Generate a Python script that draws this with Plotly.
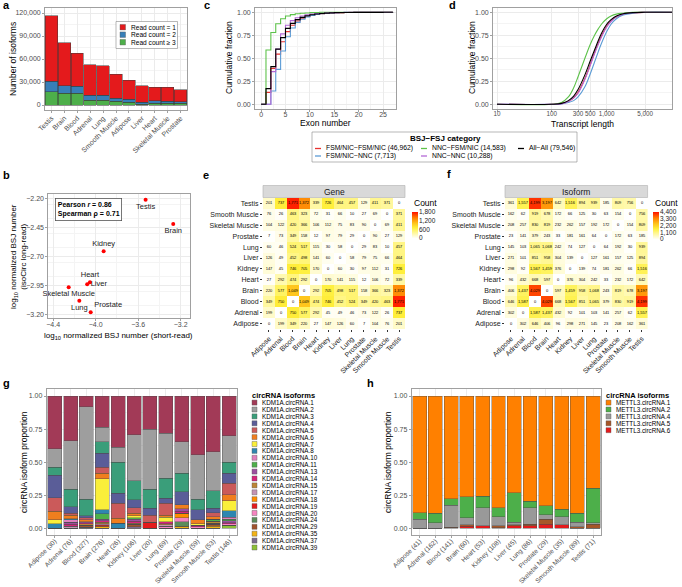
import plotly.graph_objects as go

W, H = 682, 587
FONT = "Liberation Sans, Arial, Helvetica, sans-serif"
GRID = "#EBEBEB"
MINOR = "#F4F4F4"
BORDER = "#A0A0A0"
TICKC = "#4D4D4D"


def xdom(a, b):
    return [a / W, b / W]


def ydom(top, bottom):
    return [1 - bottom / H, 1 - top / H]


def px(p):
    return p / W


def py(p):
    return 1 - p / H


# ------------------------------------------------------------------ data
# panel a
a_tissues = ["Testis", "Brain", "Blood", "Adrenal", "Lung", "Smooth Muscle",
             "Adipose", "Liver", "Heart", "Skeletal Muscle", "Prostate"]
a_count1 = [85600, 56100, 43000, 39600, 38300, 31300, 25200, 20900, 17500, 18000, 15100]
a_count2 = [13900, 10000, 9200, 6100, 6100, 4300, 3500, 2600, 3300, 3000, 2500]
a_count3 = [17000, 15200, 15200, 6500, 6500, 4800, 3900, 1300, 2200, 2000, 2000]
a_names = ["Read count = 1", "Read count = 2", "Read count \u2265 3"]
a_colors = ["#E41A1C", "#377EB8", "#4DAF4A"]

# panel b
b_tissues = ["Testis", "Brain", "Kidney", "Heart", "Liver", "Skeletal Muscle", "Lung", "Prostate"]
b_short_read = [-3.53, -3.27, -3.925, -4.054, -4.08, -4.254, -4.154, -4.047]
b_long_read = [-2.212, -2.422, -2.657, -2.924, -2.941, -2.967, -3.083, -3.183]
b_text_pos = ["bottom center", "bottom center", "top center", "top center",
              "middle right", "bottom center", "bottom center", "top right"]

# panels c, d
cd_categories = ["FSM/NIC\u2212FSM/NIC (46,962)", "FSM/NIC\u2212NNC (7,713)",
                 "NNC\u2212FSM/NIC (14,583)", "NNC\u2212NNC (10,288)", "All\u2212All (79,546)"]
cd_colors = ["#E8312F", "#5B9BD5", "#5DC24A", "#B469D6", "#000000"]

exon_numbers = list(range(0, 28))
exon_cdf = [
    [0, 0.13, 0.39, 0.545, 0.68, 0.79, 0.86, 0.905, 0.935, 0.955, 0.968, 0.978, 0.985, 0.99,
     0.993, 0.995, 0.997, 0.998, 0.999, 1, 1, 1, 1, 1, 1, 1, 1, 1],
    [0, 0, 0.145, 0.38, 0.58, 0.735, 0.83, 0.89, 0.925, 0.95, 0.965, 0.977, 0.985, 0.99,
     0.993, 0.996, 0.998, 0.999, 1, 1, 1, 1, 1, 1, 1, 1, 1, 1],
    [0, 0.59, 0.78, 0.875, 0.93, 0.96, 0.975, 0.985, 0.99, 0.993, 0.996, 0.998, 0.999, 1,
     1, 1, 1, 1, 1, 1, 1, 1, 1, 1, 1, 1, 1, 1],
    [0, 0, 0.355, 0.60, 0.765, 0.86, 0.91, 0.94, 0.96, 0.972, 0.98, 0.986, 0.99, 0.993,
     0.995, 0.997, 0.998, 0.999, 1, 1, 1, 1, 1, 1, 1, 1, 1, 1],
    [0, 0.17, 0.41, 0.60, 0.725, 0.825, 0.88, 0.92, 0.945, 0.962, 0.973, 0.981, 0.987, 0.991,
     0.994, 0.996, 0.997, 0.998, 0.9985, 0.999, 0.999, 0.9993, 0.9995, 0.9996, 0.9997,
     0.9998, 0.9999, 1],
]

length_vals = [10, 100, 150, 200, 250, 300, 400, 500, 600, 700, 800, 1000, 1200, 1500,
               2000, 3000, 5000, 16000]
length_cdf = [
    [0, 0, 0.01, 0.03, 0.07, 0.13, 0.28, 0.43, 0.56, 0.66, 0.74, 0.85, 0.91, 0.95, 0.98, 0.995, 1, 1],
    [0, 0, 0.005, 0.02, 0.04, 0.08, 0.19, 0.33, 0.46, 0.57, 0.66, 0.79, 0.87, 0.93, 0.97, 0.99, 1, 1],
    [0, 0, 0.02, 0.08, 0.18, 0.30, 0.50, 0.65, 0.75, 0.82, 0.87, 0.93, 0.96, 0.98, 0.99, 1, 1, 1],
    [0, 0, 0.005, 0.03, 0.07, 0.12, 0.27, 0.42, 0.55, 0.65, 0.73, 0.84, 0.90, 0.95, 0.98, 0.995, 1, 1],
    [0, 0, 0.01, 0.04, 0.09, 0.16, 0.32, 0.47, 0.59, 0.69, 0.77, 0.87, 0.92, 0.96, 0.985, 0.997, 1, 1],
]
length_ticks = [10, 100, 300, 500, 1000, 5000]
length_ticktext = ["10", "100", "300", "500", "1,000", "5,000"]

# panels e, f (rows and columns in the same tissue order, Adipose first)
heat_tissues = ["Adipose", "Adrenal", "Blood", "Brain", "Heart", "Kidney", "Liver", "Lung",
                "Prostate", "Skeletal Muscle", "Smooth Muscle", "Testis"]
gene_counts = [
    [0, 199, 349, 220, 27, 147, 126, 60, 7, 104, 76, 201],
    [199, 0, 750, 577, 292, 45, 49, 46, 73, 122, 26, 737],
    [349, 750, 0, 1049, 474, 746, 452, 524, 349, 420, 463, 1771],
    [220, 577, 1049, 0, 292, 705, 498, 517, 158, 366, 323, 1372],
    [27, 292, 474, 292, 0, 170, 141, 115, 12, 106, 72, 339],
    [147, 45, 746, 705, 170, 0, 60, 30, 97, 112, 31, 726],
    [126, 49, 452, 498, 141, 60, 0, 58, 79, 75, 66, 464],
    [60, 46, 524, 517, 115, 30, 58, 0, 29, 83, 10, 457],
    [7, 73, 349, 158, 12, 97, 79, 29, 0, 90, 27, 129],
    [104, 122, 420, 366, 106, 112, 75, 83, 90, 0, 69, 411],
    [76, 26, 463, 323, 72, 31, 66, 10, 27, 69, 0, 371],
    [201, 737, 1771, 1372, 339, 726, 464, 457, 129, 411, 371, 0],
]
isoform_counts = [
    [0, 302, 646, 406, 96, 298, 271, 145, 23, 208, 162, 361],
    [302, 0, 1587, 1437, 432, 92, 101, 103, 141, 257, 62, 1557],
    [646, 1587, 0, 4029, 668, 1567, 851, 1065, 379, 830, 919, 4199],
    [406, 1437, 4029, 0, 597, 1459, 958, 1068, 243, 819, 678, 3197],
    [96, 432, 668, 597, 0, 376, 304, 242, 33, 232, 172, 642],
    [298, 92, 1567, 1459, 376, 0, 139, 74, 181, 262, 66, 1516],
    [271, 101, 851, 958, 304, 139, 0, 127, 161, 157, 125, 894],
    [145, 103, 1065, 1068, 242, 74, 127, 0, 64, 192, 30, 939],
    [23, 141, 379, 243, 33, 181, 161, 64, 0, 172, 63, 185],
    [208, 257, 830, 819, 232, 262, 157, 192, 172, 0, 154, 809],
    [162, 62, 919, 678, 172, 66, 125, 30, 63, 154, 0, 756],
    [361, 1557, 4199, 3197, 642, 1516, 894, 939, 185, 809, 756, 0],
]
gene_ticks = [0, 600, 1200, 1800]
isoform_ticks = [0, 1100, 2200, 3300, 4400]

# panel g
g_labels = ["Adipose (30)", "Adrenal (76)", "Blood (327)", "Brain (276)", "Heart (26)",
            "Kidney (106)", "Liver (20)", "Lung (69)", "Prostate (29)",
            "Skeletal Muscle (59)", "Smooth Muscle (53)", "Testis (146)"]
g_isoforms = ["KDM1A.circRNA.1", "KDM1A.circRNA.2", "KDM1A.circRNA.3", "KDM1A.circRNA.4",
              "KDM1A.circRNA.5", "KDM1A.circRNA.6", "KDM1A.circRNA.7", "KDM1A.circRNA.8",
              "KDM1A.circRNA.10", "KDM1A.circRNA.11", "KDM1A.circRNA.13", "KDM1A.circRNA.14",
              "KDM1A.circRNA.15", "KDM1A.circRNA.17", "KDM1A.circRNA.18", "KDM1A.circRNA.19",
              "KDM1A.circRNA.20", "KDM1A.circRNA.24", "KDM1A.circRNA.29", "KDM1A.circRNA.35",
              "KDM1A.circRNA.37", "KDM1A.circRNA.39"]
g_colors = ["#A23A57", "#9E9E9E", "#3A9E7A", "#5A5D98", "#CB5A5A", "#F07E1E", "#FAEF3A",
            "#2E86B0", "#E07FBE", "#4DB04A", "#9C4FA0", "#D6237A", "#BC8535", "#C493B4",
            "#FF8C00", "#E41A1C", "#F584C0", "#5B8C5A", "#A0522D", "#F2B316", "#7A6A8E",
            "#8DC038"]
g_props = [
    [0.40, 0.34, 0.08, 0.238, 0.386, 0.293, 0.25, 0.28, 0.344, 0.445, 0.42, 0.30],
    [0.14, 0.365, 0.70, 0.106, 0.114, 0.347, 0.455, 0.341, 0.239, 0.335, 0.295, 0.20],
    [0.06, 0.131, 0.127, 0.088, 0.235, 0.146, 0.143, 0.152, 0.14, 0.081, 0.133, 0.083],
    [0.17, 0.05, 0.012, 0.106, 0.076, 0.058, 0.052, 0.038, 0.10, 0.076, 0.034, 0.077],
    [0.10, 0.015, 0.015, 0.045, 0.113, 0.042, 0.055, 0.089, 0.0, 0.0, 0.03, 0.088],
    [0.067, 0.025, 0.015, 0.044, 0.038, 0.02, 0.0, 0.017, 0.031, 0.03, 0.018, 0.045],
    [0.03, 0.0, 0.0, 0.234, 0.0, 0.015, 0.0, 0.033, 0.0, 0.01, 0.0, 0.074],
    [0.033, 0.01, 0.0, 0.031, 0.038, 0.0, 0.0, 0.0, 0.0, 0.0, 0.0, 0.05],
    [0, 0.02, 0, 0, 0, 0, 0, 0, 0, 0, 0, 0.015],
    [0, 0, 0, 0.04, 0, 0.01, 0, 0, 0, 0, 0.015, 0.01],
    [0, 0.015, 0.01, 0.012, 0, 0.015, 0, 0, 0.016, 0, 0, 0.015],
    [0, 0.015, 0.008, 0.012, 0, 0.015, 0, 0.015, 0.015, 0.01, 0, 0.01],
    [0, 0, 0.01, 0.01, 0, 0.01, 0, 0.01, 0, 0, 0.015, 0],
    [0, 0.014, 0, 0.008, 0, 0, 0, 0.01, 0, 0, 0, 0],
    [0, 0, 0, 0, 0, 0, 0, 0, 0.035, 0, 0, 0],
    [0, 0, 0, 0.008, 0, 0, 0.045, 0, 0, 0, 0.01, 0],
    [0, 0, 0, 0, 0, 0, 0, 0.015, 0.03, 0.013, 0, 0.01],
    [0, 0, 0, 0, 0, 0, 0, 0, 0.035, 0, 0, 0],
    [0, 0, 0.015, 0.008, 0, 0.019, 0, 0, 0, 0, 0.015, 0],
    [0, 0, 0, 0.01, 0, 0, 0, 0, 0.015, 0, 0.015, 0],
    [0, 0, 0.008, 0, 0, 0.01, 0, 0, 0, 0, 0, 0],
    [0, 0, 0, 0, 0, 0, 0, 0, 0, 0, 0, 0.023],
]

# panel h
h_labels = ["Adipose (41)", "Adrenal (162)", "Blood (141)", "Brain (60)", "Heart (53)",
            "Kidney (108)", "Liver (45)", "Lung (86)", "Prostate (29)",
            "Skeletal Muscle (35)", "Smooth Muscle (89)", "Testis (71)"]
h_isoforms = ["METTL3.circRNA.1", "METTL3.circRNA.2", "METTL3.circRNA.4",
              "METTL3.circRNA.5", "METTL3.circRNA.6"]
h_colors = ["#FF8000", "#4DAF4A", "#999999", "#A65628", "#E41A1C"]
h_props = [
    [0.882, 0.887, 0.776, 0.763, 0.756, 0.846, 0.733, 0.794, 0.83, 0.856, 0.887, 0.697],
    [0.05, 0.071, 0.05, 0.159, 0.09, 0.068, 0.222, 0.052, 0.066, 0.058, 0.068, 0.261],
    [0.068, 0.042, 0.166, 0.053, 0.136, 0.068, 0.02, 0.124, 0.036, 0.061, 0.035, 0.012],
    [0, 0, 0.004, 0.01, 0, 0.013, 0.005, 0.012, 0.038, 0, 0.01, 0.03],
    [0, 0, 0.004, 0.015, 0.018, 0.005, 0.02, 0.018, 0.03, 0.025, 0, 0],
]

heat_scale = [[0, "#FFFFFF"], [0.4, "#FFF03C"], [0.6, "#FFC21A"], [0.8, "#FF8000"], [1.0, "#FF1A00"]]

# ------------------------------------------------------------------ traces
fig = go.Figure()

# a: stacked bars (bottom trace first)
for vals, name, col in [(a_count3, a_names[2], a_colors[2]), (a_count2, a_names[1], a_colors[1]),
                        (a_count1, a_names[0], a_colors[0])]:
    fig.add_trace(go.Bar(x=a_tissues, y=vals, name=name, width=0.96,
                         marker=dict(color=col, line=dict(color="#3A3A3A", width=0.5)),
                         xaxis="x", yaxis="y", showlegend=False))

# b: scatter
fig.add_trace(go.Scatter(x=b_short_read, y=b_long_read, mode="markers+text", text=b_tissues,
                         textposition=b_text_pos, cliponaxis=False,
                         marker=dict(color="#FF0000", size=4),
                         textfont=dict(size=7.5, color="#222222", family=FONT),
                         xaxis="x2", yaxis="y2", showlegend=False))

# c: exon number ECDF
for name, col, cdf in zip(cd_categories, cd_colors, exon_cdf):
    fig.add_trace(go.Scatter(x=exon_numbers, y=cdf, mode="lines", name=name,
                             line=dict(color=col, width=1.1, shape="hv"),
                             xaxis="x3", yaxis="y3", showlegend=False))

# d: transcript length ECDF
for name, col, cdf in zip(cd_categories, cd_colors, length_cdf):
    fig.add_trace(go.Scatter(x=length_vals, y=cdf, mode="lines", name=name,
                             line=dict(color=col, width=1.1, shape="spline"),
                             xaxis="x4", yaxis="y4", showlegend=False))

# e, f: heatmaps + hand-built colour keys
for z, xa, ya, ticks, kx, ky in [(gene_counts, "x5", "y5", gene_ticks, "x9", "y9"),
                                 (isoform_counts, "x6", "y6", isoform_ticks, "x10", "y10")]:
    fig.add_trace(go.Heatmap(
        x=heat_tissues, y=heat_tissues, z=z, zmin=0, zmax=max(ticks),
        colorscale=heat_scale, showscale=False, texttemplate="%{z:,}",
        textfont=dict(size=4, color="#000000", family=FONT),
        xaxis=xa, yaxis=ya))
    fig.add_trace(go.Heatmap(
        x=[0, 1], y=ticks, z=[[t, t] for t in ticks], zmin=0, zmax=max(ticks),
        colorscale=heat_scale, showscale=False, zsmooth="best", hoverinfo="skip",
        xaxis=kx, yaxis=ky))

# g: KDM1A stacked proportions (last isoform at bottom)
for iso, col, vals in reversed(list(zip(g_isoforms, g_colors, g_props))):
    fig.add_trace(go.Bar(x=g_labels, y=vals, name=iso, width=0.88,
                         marker=dict(color=col, line=dict(color="#4A4A4A", width=0.4)),
                         xaxis="x7", yaxis="y7", showlegend=False))

# h: METTL3 stacked proportions
for iso, col, vals in reversed(list(zip(h_isoforms, h_colors, h_props))):
    fig.add_trace(go.Bar(x=h_labels, y=vals, name=iso, width=0.88,
                         marker=dict(color=col, line=dict(color="#4A4A4A", width=0.4)),
                         xaxis="x8", yaxis="y8", showlegend=False))

# ------------------------------------------------------------------ axes
def ax(**kw):
    base = dict(showline=True, mirror=True, linecolor=BORDER, linewidth=0.8,
                ticks="outside", ticklen=2, tickcolor=BORDER, tickwidth=0.6,
                tickfont=dict(size=7, color=TICKC, family=FONT),
                gridcolor=GRID, gridwidth=0.7, zeroline=False, automargin=False,
                showgrid=True)
    base.update(kw)
    return base


def hax(**kw):
    base = dict(showline=False, showgrid=False, zeroline=False, automargin=False,
                ticks="outside", ticklen=2, tickcolor="#333333", tickwidth=0.6,
                tickfont=dict(size=7, color="#222222", family=FONT))
    base.update(kw)
    return base


minor_y = dict(showgrid=True, gridcolor=MINOR, gridwidth=0.6)
small_tick = dict(size=6.6, color=TICKC, family=FONT)

layout_axes = dict(
    xaxis=ax(domain=xdom(45, 187), anchor="y", tickangle=-45, ticklabelstandoff=-1),
    yaxis=ax(domain=ydom(8.4, 109.6), anchor="x", range=[-6000, 126000], tick0=0, dtick=30000,
             tickformat=",", minor=dict(dtick=15000, **minor_y)),
    xaxis2=ax(domain=xdom(48.3, 190), anchor="y2", range=[-4.446, -3.112], tick0=-4.4, dtick=0.4,
              tickformat=".1f", tickangle=0, ticklabelstandoff=-2, minor=dict(dtick=0.2, **minor_y)),
    yaxis2=ax(domain=ydom(194, 318), anchor="x2", range=[-3.232, -2.163], tick0=-3.2, dtick=0.25,
              tickformat=".2f", minor=dict(dtick=0.125, **minor_y)),
    xaxis3=ax(domain=xdom(255, 396), anchor="y3", range=[-1.25, 27.65], tick0=0, dtick=5,
              tickangle=0, ticklabelstandoff=-3, minor=dict(dtick=2.5, **minor_y)),
    yaxis3=ax(domain=ydom(7.7, 108.9), anchor="x3", range=[-0.05, 1.05], tick0=0, dtick=0.25,
              tickformat=".2f", minor=dict(dtick=0.125, **minor_y)),
    xaxis4=ax(domain=xdom(493, 672), anchor="y4", type="log", range=[0.927, 4.19],
              tickmode="array", tickvals=length_ticks, ticktext=length_ticktext, tickangle=0,
              ticklabelstandoff=-3, tickfont=dict(size=6.3, color=TICKC, family=FONT)),
    yaxis4=ax(domain=ydom(7.7, 108.9), anchor="x4", range=[-0.05, 1.05], tick0=0, dtick=0.25,
              tickformat=".2f", minor=dict(dtick=0.125, **minor_y)),
    xaxis5=hax(domain=xdom(263, 405), anchor="y5", tickangle=-45),
    yaxis5=hax(domain=ydom(198, 329), anchor="x5"),
    xaxis6=hax(domain=xdom(505, 647.6), anchor="y6", tickangle=-45),
    yaxis6=hax(domain=ydom(198, 329), anchor="x6"),
    xaxis7=ax(domain=xdom(46.7, 237.3), anchor="y7", tickangle=-45, ticklabelstandoff=-3,
              tickfont=small_tick),
    yaxis7=ax(domain=ydom(389.4, 534.9), anchor="x7", range=[-0.05, 1.05], tick0=0, dtick=0.25,
              tickformat=".2f", minor=dict(dtick=0.125, **minor_y)),
    xaxis8=ax(domain=xdom(411.7, 601), anchor="y8", tickangle=-45, ticklabelstandoff=-3,
              tickfont=small_tick),
    yaxis8=ax(domain=ydom(389.4, 534.9), anchor="x8", range=[-0.05, 1.05], tick0=0, dtick=0.25,
              tickformat=".2f", minor=dict(dtick=0.125, **minor_y)),
    # colour keys
    xaxis9=dict(domain=xdom(412, 418), anchor="y9", visible=False, range=[0, 1], automargin=False),
    yaxis9=dict(domain=ydom(212, 238), anchor="x9", side="right", range=[0, 1800],
                tickmode="array", tickvals=gene_ticks, ticktext=[f"{t:,}" for t in gene_ticks],
                showline=False, showgrid=False, zeroline=False, ticks="", automargin=False,
                tickfont=dict(size=6.5, color="#222222", family=FONT)),
    xaxis10=dict(domain=xdom(653, 659), anchor="y10", visible=False, range=[0, 1], automargin=False),
    yaxis10=dict(domain=ydom(212, 239), anchor="x10", side="right", range=[0, 4400],
                 tickmode="array", tickvals=isoform_ticks, ticktext=[f"{t:,}" for t in isoform_ticks],
                 showline=False, showgrid=False, zeroline=False, ticks="", automargin=False,
                 tickfont=dict(size=6.5, color="#222222", family=FONT)),
)

# ------------------------------------------------------------------ annotations & shapes
ann = []
shapes = []


def text(x, y, s, size=8.5, bold=False, angle=0, xanchor="center", yanchor="middle", color="#000000", align="center"):
    if bold:
        s = f"<b>{s}</b>"
    ann.append(dict(x=px(x), y=py(y), xref="paper", yref="paper", text=s, showarrow=False,
                    textangle=angle, xanchor=xanchor, yanchor=yanchor, align=align,
                    font=dict(size=size, color=color, family=FONT)))


# panel letters
for letter, x, y in [("a", 6, 5), ("b", 6, 175), ("c", 207, 5), ("d", 452, 5),
                     ("e", 206, 175), ("f", 449, 174), ("g", 6, 383), ("h", 370, 383)]:
    text(x, y, letter, size=11, bold=True)

# axis titles
text(13, 59, "Number of isoforms", angle=-90)
text(18, 257, "log<sub>10</sub> normalized BSJ number<br>(isoCirc long-read)", angle=-90, size=8)
text(118, 336, "log<sub>10</sub> normalized BSJ number (short-read)", size=8)
text(229, 58, "Cumulative fraction", angle=-90)
text(325, 123, "Exon number")
text(472, 58, "Cumulative fraction", angle=-90)
text(582, 123.5, "Transcript length")
text(24, 462, "circRNA isoform proportion", angle=-90)
text(388, 462, "circRNA isoform proportion", angle=-90)

# colour key titles
text(412, 203, "Count", size=8.5, xanchor="left")
text(653, 203, "Count", size=8.5, xanchor="left")

# b correlation box
ann.append(dict(x=px(55), y=py(197.5), xref="paper", yref="paper", showarrow=False,
                xanchor="left", yanchor="top", align="left",
                text="<b>Pearson <i>r</i> = 0.86</b><br><b>Spearman \u03c1 = 0.71</b>",
                bordercolor="#555555", borderwidth=0.8, borderpad=2, bgcolor="#FFFFFF",
                font=dict(size=7, color="#000000", family=FONT)))

# strips for heatmaps
for x0, x1, lab in [(263, 405, "Gene"), (505, 647.6, "Isoform")]:
    shapes.append(dict(type="rect", xref="paper", yref="paper", x0=px(x0), x1=px(x1),
                       y0=py(197.5), y1=py(185.5), fillcolor="#D9D9D9",
                       line=dict(color="#B0B0B0", width=0.6)))
    text((x0 + x1) / 2, 191.5, lab, size=8.5, color="#1A1A1A")


def square(x, y, color, size=5.5):
    shapes.append(dict(type="rect", xref="paper", yref="paper", x0=px(x), x1=px(x + size),
                       y0=py(y + size / 2), y1=py(y - size / 2), fillcolor=color,
                       line=dict(color="#555555", width=0.4)))


# legend a
shapes.append(dict(type="rect", xref="paper", yref="paper", x0=px(116), x1=px(177.5),
                   y0=py(48.5), y1=py(21.5), fillcolor="#FFFFFF",
                   line=dict(color="#888888", width=0.6)))
for i, (name, col) in enumerate(zip(a_names, a_colors)):
    yy = 27.2 + i * 7.5
    square(120, yy, col)
    text(129, yy, name, size=6.6, xanchor="left")

# legend c/d
shapes.append(dict(type="rect", xref="paper", yref="paper", x0=px(312), x1=px(577),
                   y0=py(162), y1=py(132), fillcolor="#FFFFFF",
                   line=dict(color="#888888", width=0.6)))
text(445, 138.5, "BSJ\u2212FSJ category", size=8, bold=True)
cd_slots = [(315, 148.5), (315, 156), (421, 148.5), (421, 156), (518, 148.5)]
for (x, y), name, col in zip(cd_slots, cd_categories, cd_colors):
    shapes.append(dict(type="line", xref="paper", yref="paper", x0=px(x), x1=px(x + 6),
                       y0=py(y), y1=py(y), line=dict(color=col, width=1.3)))
    text(x + 9, y, name, size=6.8, xanchor="left")

# legend g
text(250, 395.5, "circRNA isoforms", size=7.5, bold=True, xanchor="left")
for i, (iso, col) in enumerate(zip(g_isoforms, g_colors)):
    yy = 402.6 + i * 6.9
    square(252, yy, col, size=5)
    text(259.5, yy, iso, size=6.3, xanchor="left")

# legend h
text(604, 395.5, "circRNA isoforms", size=7.5, bold=True, xanchor="left")
for i, (iso, col) in enumerate(zip(h_isoforms, h_colors)):
    yy = 402.6 + i * 6.9
    square(606, yy, col, size=5)
    text(613.5, yy, iso, size=6.3, xanchor="left")

fig.update_layout(
    width=W, height=H, margin=dict(l=0, r=0, t=0, b=0, pad=0),
    paper_bgcolor="#FFFFFF", plot_bgcolor="#FFFFFF",
    barmode="stack", showlegend=False,
    font=dict(family=FONT, size=8, color="#000000"),
    annotations=ann, shapes=shapes,
    **layout_axes,
)

fig.write_html("out.html", config={"displayModeBar": False},
               post_script="document.body.style.margin='0px';document.body.style.overflow='hidden';")
